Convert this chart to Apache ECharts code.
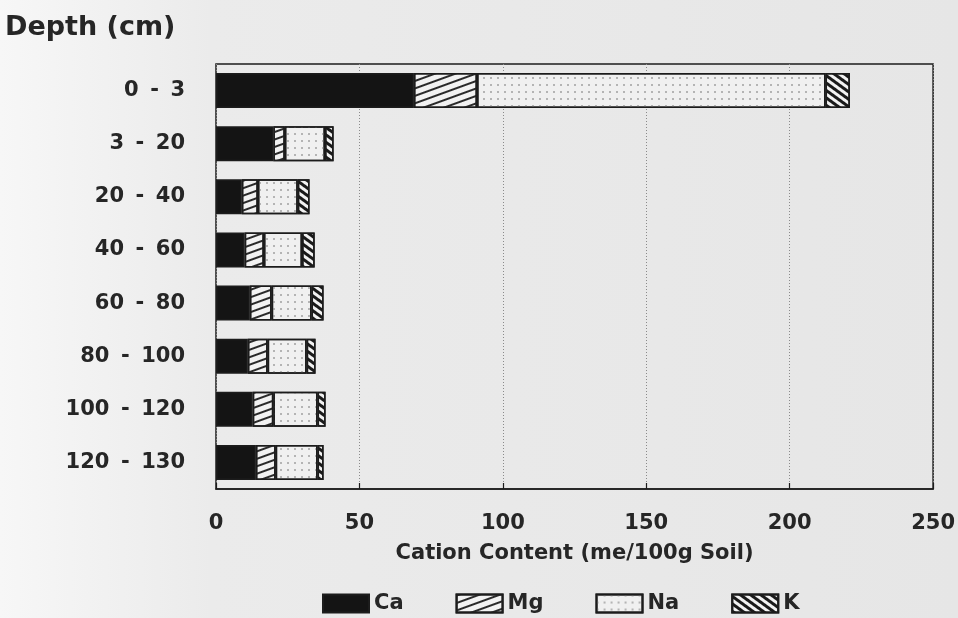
<!DOCTYPE html>
<html>
<head>
<meta charset="utf-8">
<script src="https://cdn.jsdelivr.net/npm/echarts@6/dist/echarts.min.js"></script>
<style>html,body{margin:0;padding:0;background:#e9e9e9;}#c{width:958px;height:618px;}</style>
</head>
<body>
<div id="c"></div>
<script>
const depths = ['0 - 3', '3 - 20', '20 - 40', '40 - 60', '60 - 80', '80 - 100', '100 - 120', '120 - 130'];
const ca = [69, 20, 9, 10, 11.8, 11.1, 12.8, 13.9];
const mg = [22, 4, 5.6, 6.7, 7.6, 6.9, 7.2, 6.9];
const na = [121.5, 14, 13.9, 13.3, 13.9, 13.6, 15.4, 14.6];
const k = [8.5, 3, 4.1, 4.4, 4.2, 3.1, 2.8, 2.1];
const xTicks = [0, 50, 100, 150, 200, 250];

const FONT = 'DejaVu Sans';
const edge = '#1c1c1c';

const mgDecal = { symbol: 'rect', symbolSize: 1, color: '#2a2a2a', dashArrayX: [1, 0], dashArrayY: [1.3, 5], rotation: -Math.PI / 9 };
const naDecal = { symbol: 'circle', symbolSize: 1, color: '#a0a0a0', dashArrayX: [1.2, 5], dashArrayY: [1.2, 5], rotation: 0 };
const kDecal = { symbol: 'rect', symbolSize: 1, color: '#1a1a1a', dashArrayX: [1, 0], dashArrayY: [2.5, 3], rotation: Math.PI / 5 };

function mk(name, data, color, decal) {
  return {
    name, type: 'bar', stack: 'total', data, barWidth: '66%',
    itemStyle: { color, borderColor: edge, borderWidth: 1.5, decal },
    emphasis: { disabled: true }
  };
}

const chart = echarts.init(document.getElementById('c'), null, { renderer: 'canvas' });
chart.setOption({
  animation: false,
  backgroundColor: {
    type: 'linear', x: 0, y: 0, x2: 1, y2: 0,
    colorStops: [{ offset: 0, color: '#f7f7f7' }, { offset: 0.22, color: '#ebebeb' }, { offset: 1, color: '#e6e6e6' }]
  },
  title: {
    text: 'Depth (cm)', left: 0, top: 9,
    textStyle: { fontFamily: FONT, fontSize: 27, fontWeight: 'bold', color: '#262626' }
  },
  grid: { left: 216, right: 22, top: 64, bottom: 129, show: true, borderColor: edge, borderWidth: 1.5, backgroundColor: 'transparent' },
  xAxis: {
    type: 'value', min: 0, max: 250, interval: 50,
    name: 'Cation Content (me/100g Soil)', nameLocation: 'middle', nameGap: 54,
    nameTextStyle: { fontFamily: FONT, fontSize: 21, fontWeight: 'bold', color: '#262626' },
    axisLine: { show: true, lineStyle: { color: edge, width: 1.5 } },
    axisTick: { show: true, inside: true, length: 6, lineStyle: { color: edge, width: 1.2 } },
    axisLabel: {
      margin: 24, fontFamily: FONT, fontSize: 21, fontWeight: 'bold', color: '#262626',
      formatter: v => xTicks.includes(v) ? String(v) : ''
    },
    splitLine: { show: true, lineStyle: { color: '#8a8a8a', type: [1, 2], width: 1 } }
  },
  yAxis: {
    type: 'category', data: depths, inverse: true,
    axisLine: { show: false }, axisTick: { show: false },
    axisLabel: {
      margin: 31, fontFamily: FONT, fontSize: 21, fontWeight: 'bold', color: '#262626',
      formatter: s => s.replace(' - ', ' \u2009-\u2009 ')
    }
  },
  legend: {
    left: 317, top: 588, itemWidth: 46, itemHeight: 18, itemGap: 52, itemTextGap: 12, icon: 'rect',
    textStyle: { fontFamily: FONT, fontSize: 21, fontWeight: 'bold', color: '#262626' },
    data: ['Ca', 'Mg', 'Na', 'K']
  },
  series: [
    mk('Ca', ca, '#141414', null),
    mk('Mg', mg, '#f2f2f2', mgDecal),
    mk('Na', na, '#f0f0f0', naDecal),
    mk('K', k, '#f2f2f2', kDecal)
  ]
});
</script>
</body>
</html>
